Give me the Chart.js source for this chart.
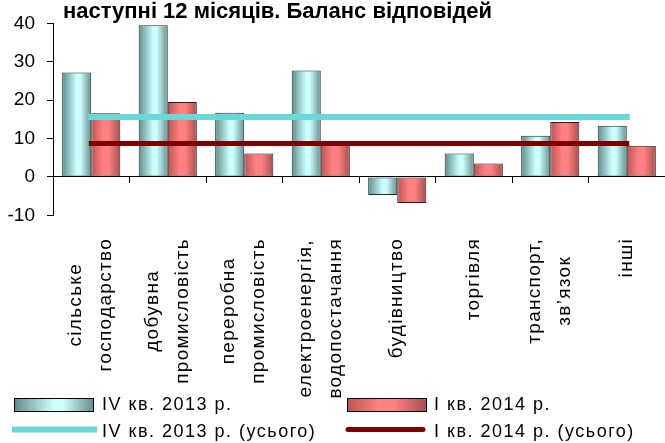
<!DOCTYPE html>
<html>
<head>
<meta charset="utf-8">
<script src="https://cdn.jsdelivr.net/npm/chart.js@4.4.0/dist/chart.umd.min.js"></script>
<style>
  html, body { margin: 0; padding: 0; background: #fff; }
</style>
</head>
<body>
<canvas id="myChart" width="665" height="443"></canvas>
<script>
// data
const categories = [
  ['сільське', 'господарство'],
  ['добувна', 'промисловість'],
  ['переробна', 'промисловість'],
  ['електроенергія,', 'водопостачання'],
  ['будівництво'],
  ['торгівля'],
  ['транспорт,', 'зв’язок'],
  ['інші'],
]
const q4_2013 = [27.2, 39.5, 16.7, 27.7, -4.7, 6.1, 10.7, 13.3]
const q1_2014 = [16.6, 19.5, 6.1, 8.6, -6.8, 3.5, 14.3, 8.1]
const q4_2013_total = [15.6, 15.6, 15.6, 15.6, 15.6, 15.6, 15.6, 15.6]
const q1_2014_total = [8.7, 8.7, 8.7, 8.7, 8.7, 8.7, 8.7, 8.7]
const yTicks = [-10, 0, 10, 20, 30, 40]
const seriesNames = ['IV кв. 2013 р.', 'I кв. 2014 р.', 'IV кв. 2013 р. (усього)', 'I кв. 2014 р. (усього)']
const titleText = 'наступні 12 місяців. Баланс відповідей'

const FONT = '"Liberation Sans", Arial, sans-serif'
const cyanStops = [[0, '#5f8c8c'], [0.5, '#ccffff'], [0.62, '#ccffff'], [1, '#678f8f']]
const redStops = [[0, '#b85555'], [0.4, '#ff8080'], [0.6, '#ff8080'], [1, '#a65050']]
const BAR_PART = 0.76

function makeGradient(ctx, left, w, stops) {
  const g = ctx.createLinearGradient(left, 0, left + w, 0)
  stops.forEach(s => g.addColorStop(s[0], s[1]))
  return g
}

function barFill(stops) {
  return (c) => {
    const chart = c.chart
    const xs = chart.scales.x
    if (!chart.chartArea || !xs || c.dataIndex === undefined) return stops[1][1]
    const center = xs.getPixelForValue(c.dataIndex)
    const w = xs.width / categories.length * BAR_PART / 2
    const left = c.datasetIndex === 0 ? center - w : center
    return makeGradient(chart.ctx, left, w, stops)
  }
}

// texts: title, category labels, legend
const extras = {
  id: 'extras',
  afterDraw(chart) {
    const ctx = chart.ctx
    const xs = chart.scales.x
    ctx.save()
    ctx.fillStyle = '#000'

    ctx.font = 'bold 22px ' + FONT
    ctx.textAlign = 'left'
    ctx.textBaseline = 'alphabetic'
    ctx.fillText(titleText, 63, 18)

    ctx.font = '19px ' + FONT
    ctx.letterSpacing = '1.3px'
    categories.forEach((lines, i) => {
      const cx = xs.getPixelForValue(i)
      const maxW = Math.max(...lines.map(l => ctx.measureText(l).width))
      lines.forEach((l, j) => {
        const x = cx + (j - (lines.length - 1) / 2) * 30
        ctx.save()
        ctx.translate(x, 238 + maxW / 2)
        ctx.rotate(-Math.PI / 2)
        ctx.textAlign = 'center'
        ctx.textBaseline = 'middle'
        ctx.fillText(l, 0, 0)
        ctx.restore()
      })
    })

    // legend
    ctx.letterSpacing = '1.5px'
    ctx.lineWidth = 1
    ctx.strokeStyle = '#000'
    ctx.fillStyle = makeGradient(ctx, 14, 79, cyanStops)
    ctx.fillRect(14, 398, 79, 13)
    ctx.strokeRect(14.5, 398.5, 79, 13)
    ctx.fillStyle = makeGradient(ctx, 347, 79, redStops)
    ctx.fillRect(347, 398, 79, 13)
    ctx.strokeRect(347.5, 398.5, 79, 13)

    ctx.lineCap = 'butt'
    ctx.lineWidth = 6
    ctx.strokeStyle = '#66d9d9'
    ctx.beginPath(); ctx.moveTo(12, 429.5); ctx.lineTo(97, 429.5); ctx.stroke()
    ctx.lineCap = 'round'
    ctx.lineWidth = 5
    ctx.strokeStyle = '#800000'
    ctx.beginPath(); ctx.moveTo(348, 429.5); ctx.lineTo(423, 429.5); ctx.stroke()

    ctx.fillStyle = '#000'
    ctx.font = '18px ' + FONT
    ctx.textAlign = 'left'
    ctx.fillText(seriesNames[0], 102, 410)
    ctx.fillText(seriesNames[1], 434, 410)
    ctx.fillText(seriesNames[2], 102, 437)
    ctx.fillText(seriesNames[3], 434, 437)
    ctx.restore()
  }
}

const ctx = document.getElementById('myChart').getContext('2d')
const myChart = new Chart(ctx, {
  type: 'bar',
  data: {
    labels: categories,
    datasets: [
      {
        label: seriesNames[0],
        data: q4_2013,
        backgroundColor: barFill(cyanStops),
        borderColor: '#1f2a2a',
        borderWidth: 1,
        borderSkipped: false,
        categoryPercentage: BAR_PART,
        barPercentage: 1,
        order: 1,
      },
      {
        label: seriesNames[1],
        data: q1_2014,
        backgroundColor: barFill(redStops),
        borderColor: '#2a1f1f',
        borderWidth: 1,
        borderSkipped: false,
        categoryPercentage: BAR_PART,
        barPercentage: 1,
        order: 1,
      },
      {
        type: 'line',
        label: seriesNames[2],
        data: q4_2013_total,
        borderColor: '#66d9d9',
        borderWidth: 6,
        borderCapStyle: 'square',
        pointRadius: 0,
        fill: false,
        order: 0,
      },
      {
        type: 'line',
        label: seriesNames[3],
        data: q1_2014_total,
        borderColor: '#800000',
        borderWidth: 5,
        borderCapStyle: 'square',
        pointRadius: 0,
        fill: false,
        order: 0,
      },
    ],
  },
  options: {
    responsive: false,
    animation: false,
    layout: {
      padding: { top: 20, bottom: 227.7, left: 0, right: 0 },
    },
    plugins: {
      legend: { display: false },
      tooltip: { enabled: false },
      title: { display: false },
    },
    scales: {
      x: {
        position: { y: 0 },
        grid: {
          display: true,
          drawOnChartArea: false,
          drawTicks: true,
          tickLength: 6,
          offset: true,
          color: '#000',
        },
        border: { display: true, color: '#000', width: 1 },
        ticks: { display: false },
      },
      y: {
        min: yTicks[0],
        max: yTicks[yTicks.length - 1],
        ticks: {
          stepSize: 10,
          padding: 12,
          color: '#000',
          font: { family: FONT, size: 19 },
        },
        grid: {
          drawOnChartArea: false,
          drawTicks: true,
          tickLength: 6,
          color: '#000',
        },
        border: { display: true, color: '#000', width: 1 },
        afterFit(scale) {
          scale.width = 53
        },
      },
    },
  },
  plugins: [extras],
})
</script>
</body>
</html>
